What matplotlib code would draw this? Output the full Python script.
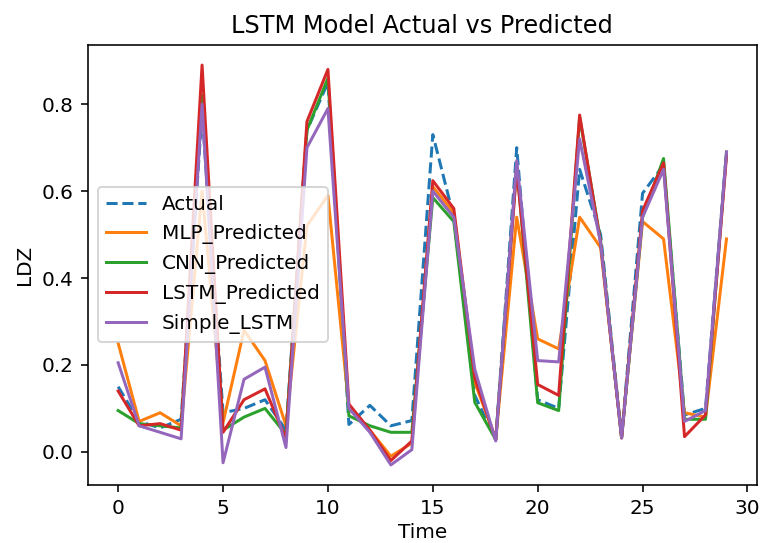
import numpy as np
import matplotlib

matplotlib.use('Agg')
import matplotlib.pyplot as plt

# values, one per time step
time = np.arange(30)
actual = [0.15, 0.07, 0.055, 0.075, 0.78, 0.09, 0.10, 0.12, 0.05, 0.74,
          0.85, 0.063, 0.107, 0.06, 0.072, 0.73, 0.54, 0.13, 0.028, 0.70,
          0.12, 0.10, 0.65, 0.50, 0.035, 0.595, 0.66, 0.085, 0.10, 0.69]
mlp_pred = [0.25, 0.07, 0.09, 0.06, 0.60, 0.067, 0.28, 0.21, 0.06, 0.52,
            0.59, 0.10, 0.05, -0.01, 0.02, 0.61, 0.55, 0.16, 0.03, 0.54,
            0.26, 0.237, 0.54, 0.47, 0.035, 0.53, 0.49, 0.09, 0.08, 0.49]
cnn_pred = [0.095, 0.065, 0.06, 0.055, 0.82, 0.05, 0.08, 0.10, 0.04, 0.74,
            0.86, 0.083, 0.06, 0.045, 0.045, 0.585, 0.53, 0.114, 0.028, 0.66,
            0.113, 0.095, 0.77, 0.485, 0.032, 0.54, 0.675, 0.075, 0.075, 0.69]
lstm_pred = [0.14, 0.06, 0.065, 0.05, 0.89, 0.045, 0.12, 0.145, 0.03, 0.76,
             0.88, 0.11, 0.05, -0.02, 0.025, 0.624, 0.56, 0.17, 0.028, 0.65,
             0.155, 0.13, 0.775, 0.48, 0.032, 0.555, 0.665, 0.035, 0.085, 0.68]
simple_lstm = [0.205, 0.06, 0.045, 0.03, 0.80, -0.025, 0.167, 0.195, 0.01, 0.70,
               0.79, 0.10, 0.045, -0.03, 0.005, 0.60, 0.54, 0.19, 0.025, 0.67,
               0.21, 0.207, 0.72, 0.48, 0.032, 0.54, 0.65, 0.07, 0.095, 0.69]

dpi = 144
fig = plt.figure(figsize=(763 / dpi, 543 / dpi), dpi=dpi)
ax = fig.add_axes([0.115, 0.107, 0.877, 0.81])

ax.plot(time, actual, '--', label='Actual')
ax.plot(time, mlp_pred, label='MLP_Predicted')
ax.plot(time, cnn_pred, label='CNN_Predicted')
ax.plot(time, lstm_pred, label='LSTM_Predicted')
ax.plot(time, simple_lstm, label='Simple_LSTM')

ax.set_title('LSTM Model Actual vs Predicted')
ax.set_xlabel('Time', labelpad=2.5)
ax.set_ylabel('LDZ')
ax.legend(loc='center left')

fig.savefig('out.png', dpi=dpi)
